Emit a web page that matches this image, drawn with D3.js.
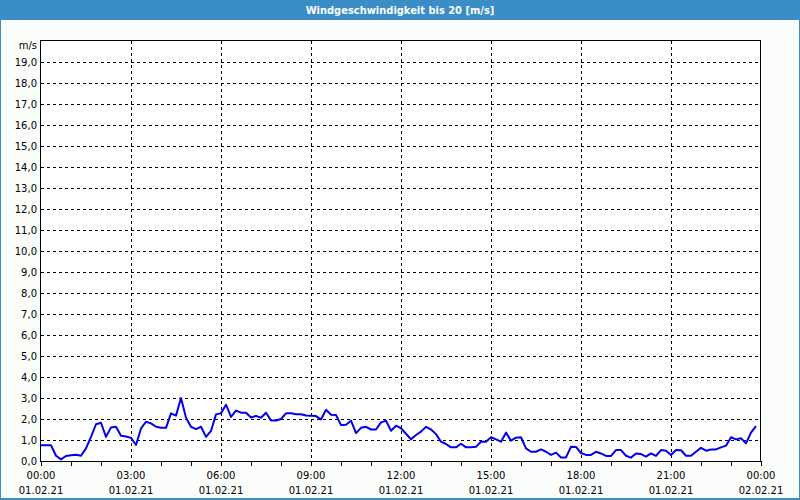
<!DOCTYPE html>
<html><head><meta charset="utf-8">
<script src="https://cdn.jsdelivr.net/npm/d3@7"></script>
<style>
html,body{margin:0;padding:0;background:#fff;}
svg{display:block;}
</style></head>
<body>
<svg id="chart" width="800" height="500"></svg>
<script>
const title = "Windgeschwindigkeit bis 20 [m/s]";
const unitLabel = "m/s";
const startTime = new Date(2021, 1, 1, 0, 0);
const stepMinutes = 10;
const windSpeed = [
  0.75,0.75,0.75,0.25,0.08,0.24,0.27,0.30,0.25,0.60,
  1.15,1.75,1.82,1.15,1.60,1.63,1.20,1.17,1.10,0.76,
  1.55,1.87,1.79,1.63,1.58,1.58,2.27,2.16,3.00,2.06,
  1.63,1.52,1.63,1.15,1.43,2.22,2.27,2.68,2.10,2.40,
  2.30,2.30,2.07,2.15,2.06,2.30,1.93,1.93,2.00,2.27,
  2.27,2.23,2.23,2.17,2.16,2.14,1.98,2.44,2.20,2.19,
  1.71,1.73,1.92,1.33,1.58,1.63,1.50,1.50,1.84,1.92,
  1.44,1.68,1.56,1.30,1.03,1.24,1.40,1.63,1.50,1.28,
  0.92,0.81,0.65,0.65,0.82,0.65,0.65,0.68,0.92,0.92,
  1.13,1.03,0.92,1.35,0.97,1.11,1.13,0.60,0.44,0.44,
  0.55,0.44,0.29,0.40,0.17,0.17,0.68,0.67,0.38,0.29,
  0.29,0.44,0.36,0.24,0.24,0.52,0.52,0.25,0.16,0.36,
  0.33,0.21,0.36,0.24,0.52,0.49,0.29,0.52,0.51,0.25,
  0.25,0.44,0.63,0.49,0.55,0.55,0.65,0.73,1.13,1.03,
  1.08,0.84,1.35,1.66
];
const timeLabels = ["00:00","03:00","06:00","09:00","12:00","15:00","18:00","21:00","00:00"];
const dateLabels = ["01.02.21","01.02.21","01.02.21","01.02.21","01.02.21","01.02.21","01.02.21","01.02.21","02.02.21"];
const yTicks = d3.range(0, 20, 1);

const svg = d3.select("#chart");
const W = 800, H = 500;
const plot = {left: 41, right: 761, top: 41, bottom: 461};
const font = "'DejaVu Sans', Verdana, sans-serif";

// background + frame
svg.append("rect").attr("x",0).attr("y",0).attr("width",W).attr("height",H).attr("fill","#fbfdfb");
svg.append("rect").attr("x",0.5).attr("y",0.5).attr("width",W-1).attr("height",H-1)
  .attr("fill","none").attr("stroke","#3b8dc5").attr("stroke-width",1);
svg.append("rect").attr("x",0).attr("y",0).attr("width",W).attr("height",20).attr("fill","#3b8dc5");
svg.append("rect").attr("x",0).attr("y",H-2).attr("width",W).attr("height",2).attr("fill","#3b8dc5");
svg.append("text").attr("x",W/2).attr("y",14).attr("text-anchor","middle")
  .attr("fill","#fff").attr("font-family","'DejaVu Sans Condensed', 'DejaVu Sans', sans-serif")
  .attr("font-weight","bold").attr("font-size","11px").text(title);

const endTime = d3.timeDay.offset(startTime, 1);
const x = d3.scaleTime().domain([startTime, endTime]).range([plot.left, plot.right]);
const y = d3.scaleLinear().domain([0, 20]).range([plot.bottom, plot.top]);

// plot area
svg.append("rect").attr("x",plot.left).attr("y",plot.top).attr("width",plot.right-plot.left)
  .attr("height",plot.bottom-plot.top).attr("fill","#fff");

const g = svg.append("g");
// horizontal grid
g.selectAll("line.hg").data(yTicks.filter(d=>d>0)).join("line")
  .attr("x1",plot.left).attr("x2",plot.right)
  .attr("y1",d=>Math.round(y(d))+0.5).attr("y2",d=>Math.round(y(d))+0.5)
  .attr("stroke","#000").attr("stroke-dasharray","3,3").attr("stroke-width",1);
// vertical grid every 3h
const majorTimes = d3.range(0, 9).map(k => d3.timeHour.offset(startTime, k*3));
g.selectAll("line.vg").data(majorTimes.slice(1, -1)).join("line")
  .attr("x1",d=>Math.round(x(d))+0.5).attr("x2",d=>Math.round(x(d))+0.5)
  .attr("y1",plot.top).attr("y2",plot.bottom)
  .attr("stroke","#000").attr("stroke-dasharray","3,3").attr("stroke-width",1);

// hourly ticks
const hourTimes = d3.timeHour.range(startTime, d3.timeMinute.offset(endTime,1));
g.selectAll("line.tk").data(hourTimes).join("line")
  .attr("x1",d=>Math.round(x(d))+0.5).attr("x2",d=>Math.round(x(d))+0.5)
  .attr("y1",plot.bottom).attr("y2",plot.bottom+5)
  .attr("stroke","#000").attr("stroke-width",1);

// border
svg.append("rect").attr("x",plot.left-0.5).attr("y",plot.top-0.5)
  .attr("width",plot.right-plot.left).attr("height",plot.bottom-plot.top+1)
  .attr("fill","none").attr("stroke","#000").attr("stroke-width",1);

// y labels
svg.selectAll("text.yl").data(yTicks).join("text")
  .attr("x",plot.left-4).attr("y",d=>y(d)+4).attr("text-anchor","end")
  .attr("font-family",font).attr("font-size","10px").attr("fill","#000")
  .text(d=>d.toFixed(1).replace(".", ","));
svg.append("text").attr("x",plot.left-4).attr("y",y(20)+8).attr("text-anchor","end")
  .attr("font-family",font).attr("font-size","10px").attr("fill","#000").text(unitLabel);

// x labels
svg.selectAll("text.xl").data(majorTimes).join("text")
  .attr("x",d=>x(d)).attr("y",479).attr("text-anchor","middle")
  .attr("font-family",font).attr("font-size","10px").attr("fill","#000")
  .text((d,i)=>timeLabels[i]);
svg.selectAll("text.xd").data(majorTimes).join("text")
  .attr("x",d=>x(d)).attr("y",494).attr("text-anchor","middle")
  .attr("font-family",font).attr("font-size","10px").attr("fill","#000")
  .text((d,i)=>dateLabels[i]);

// data line
const series = windSpeed.map((v,i)=>({t:d3.timeMinute.offset(startTime, i*stepMinutes), v}));
svg.append("path").datum(series)
  .attr("fill","none").attr("stroke","#0000ee").attr("stroke-width",2)
  .attr("stroke-linejoin","round")
  .attr("d", d3.line().x(d=>x(d.t)).y(d=>y(d.v)));
</script>
</body></html>
